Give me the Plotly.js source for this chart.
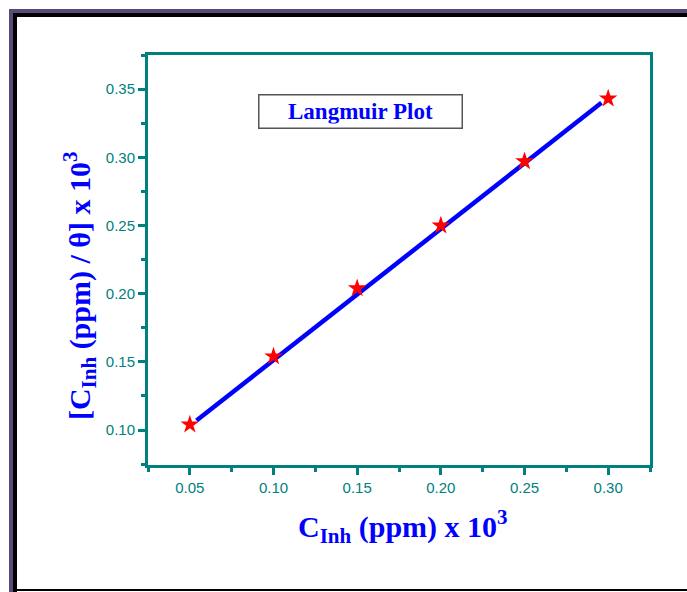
<!DOCTYPE html>
<html>
<head>
<meta charset="utf-8">
<script src="https://cdn.plot.ly/plotly-3.0.1.min.js"></script>
<style>
html,body{margin:0;padding:0;background:#fff;}
#wrap{position:relative;width:687px;height:592px;overflow:hidden;}
#plot{position:absolute;left:0;top:0;width:687px;height:592px;}
.b{position:absolute;}
</style>
</head>
<body>
<div id="wrap">
<div id="plot"></div>
<div class="b" style="left:9px;top:9px;width:4px;height:583px;background:#5a4a7a;"></div>
<div class="b" style="left:9px;top:9px;width:678px;height:4px;background:#5a4a7a;"></div>
<div class="b" style="left:13px;top:13px;width:4px;height:579px;background:#000;"></div>
<div class="b" style="left:13px;top:13px;width:674px;height:4px;background:#000;"></div>
<div class="b" style="left:13px;top:589px;width:674px;height:2px;background:#000;"></div>
</div>
<script>
const concentration = [0.05, 0.10, 0.15, 0.20, 0.25, 0.30];
const cOverTheta = [0.104, 0.154, 0.204, 0.250, 0.297, 0.343];
const fitX = [0.054, 0.296];
const fitY = [0.107, 0.340];
const xTicks = [0.05, 0.10, 0.15, 0.20, 0.25, 0.30];
const yTicks = [0.10, 0.15, 0.20, 0.25, 0.30, 0.35];

const teal = '#008080';
const serif = 'Liberation Serif, Times New Roman, serif';
const traces = [
  {x: fitX, y: fitY, mode: 'lines', line: {color: '#0000ff', width: 4.5}, hoverinfo: 'skip'},
  {x: concentration, y: cOverTheta, mode: 'markers',
   marker: {symbol: 'star', size: 14, color: '#ff0000', line: {width: 0}}}
];
const axisBase = {
  showgrid: false, zeroline: false, showline: true, linecolor: teal, linewidth: 3,
  mirror: true, ticks: 'outside', ticklen: 7, tickwidth: 3, tickcolor: teal,
  tickfont: {family: 'Arial, Liberation Sans, sans-serif', size: 15, color: teal},
  minor: {ticks: 'outside', ticklen: 4, tickwidth: 3, tickcolor: teal}
};
const layout = {
  width: 687, height: 592, showlegend: false,
  paper_bgcolor: '#fff', plot_bgcolor: '#fff',
  margin: {l: 148, r: 37, t: 55, b: 127},
  xaxis: Object.assign({}, axisBase, {
    range: [0.025, 0.325], tickvals: xTicks, ticktext: xTicks.map(v => v.toFixed(2)),
    minor: Object.assign({}, axisBase.minor, {dtick: 0.025, tick0: 0.025})
  }),
  yaxis: Object.assign({}, axisBase, {
    range: [0.0744, 0.375], tickvals: yTicks, ticktext: yTicks.map(v => v.toFixed(2)),
    minor: Object.assign({}, axisBase.minor, {dtick: 0.025, tick0: 0.075})
  }),
  annotations: [{
    xref: 'paper', yref: 'paper', x: 0.424, y: 0.863, xanchor: 'center', yanchor: 'middle',
    text: '<b>Langmuir Plot</b>', showarrow: false,
    font: {family: serif, size: 23, color: '#0000ff'},
    bordercolor: '#555', borderwidth: 1.5, borderpad: 4, width: 194, height: 24, bgcolor: '#fff'
  }, {
    xref: 'paper', yref: 'paper', x: 0.508, y: -0.15, xanchor: 'center', yanchor: 'middle',
    text: '<b>C<sub>Inh</sub> (ppm) x 10<sup>3</sup></b>', showarrow: false,
    font: {family: serif, size: 30, color: '#0000ff'}
  }, {
    xref: 'paper', yref: 'paper', x: -0.135, y: 0.437, xanchor: 'center', yanchor: 'middle',
    textangle: -90,
    text: '<b>[C<sub>Inh</sub> (ppm) / θ] x 10<sup>3</sup></b>', showarrow: false,
    font: {family: serif, size: 30, color: '#0000ff'}
  }]
};
Plotly.newPlot('plot', traces, layout, {displayModeBar: false, staticPlot: true});
</script>
</body>
</html>
